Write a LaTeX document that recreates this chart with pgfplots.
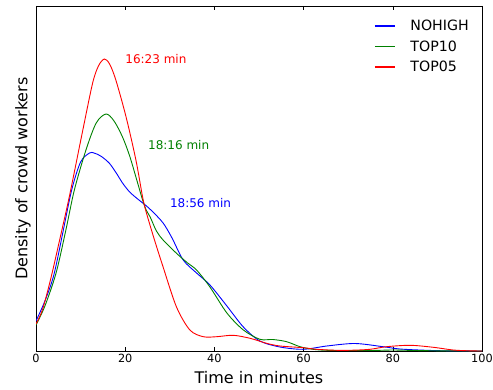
\documentclass[border=0pt]{standalone}
\usepackage{fontspec}
\setmainfont{DejaVu Sans}
\usepackage{pgfplots}
\pgfplotsset{compat=1.18}
\definecolor{mplgreen}{rgb}{0,0.5,0}
\begin{document}
\begin{tikzpicture}
\path[use as bounding box] (-36pt,-38pt) rectangle (457pt,351pt);
\begin{axis}[
  scale only axis,
  width=446pt, height=345pt,
  xmin=0, xmax=100, ymin=0, ymax=345,
  xtick={0,20,40,60,80,100},
  ytick=\empty,
  xtick pos=both,
  tick align=inside,
  major tick length=4pt,
  axis line style={black, line width=0.8pt},
  every tick/.style={black, line width=0.6pt},
  /pgf/number format/assume math mode=true,
  tick label style={font=\fontsize{11.3}{13}\selectfont},
  xlabel={Time in minutes},
  ylabel={Density of crowd workers},
  label style={font=\fontsize{16}{19}\selectfont},
  xlabel style={at={(axis description cs:0.5,-0.0783)}, anchor=center},
  ylabel style={at={(axis description cs:-0.0291,0.5)}, anchor=center},
  legend cell align=left,
  legend style={draw=white, fill=white, font=\fontsize{14.2}{16}\selectfont,
    at={(axis description cs:0.758,0.960)}, anchor=north west,
    row sep=8.5pt, inner sep=0pt, nodes={inner sep=0pt}},
  legend image code/.code={\draw[#1, line width=1.4pt] plot coordinates {(0pt,0pt) (10pt,0pt) (20pt,0pt)}; \path (35pt,0pt);},
  every axis plot/.append style={line width=0.9pt, smooth, no marks},
]
\addplot[color=blue] coordinates {
(0,30) (2,50) (4,76) (6,118) (8,161) (10,189) (12,198) (13,198) (14.5,195)
(16.4,188) (18,178) (19.4,168) (21,159) (22.8,152) (24.5,146) (26,140)
(28.5,128) (30.5,113) (33,91) (36,78) (39,66) (42.8,45) (46.5,24) (50.2,10)
(54.7,4) (59.9,1.7) (65.2,5) (71.5,7.5) (77.8,4.3) (81.6,2) (87.6,0.7) (92,0.2) (100,0)
};
\addlegendentry{NOHIGH}
\addplot[color=mplgreen] coordinates {
(0,26) (2,45) (4.5,78) (6.7,121) (8.6,161) (11.2,201) (13.5,228) (15.7,237)
(17.5,230) (19.4,214) (21,195) (22.4,174) (23.9,151) (24.7,141) (25.6,134)
(27,120) (28.5,111) (31.5,97.7) (34,88) (36,81) (39,64) (42.8,38) (46.5,21)
(50.2,11.7) (53.1,11.5) (56.2,9.3) (59.2,4.3) (62.1,1.7) (66,0.6) (75,0.5)
(80,1) (85,0.5) (92,0.1) (100,0)
};
\addlegendentry{TOP10}
\addplot[color=red] coordinates {
(0,27) (1.5,42) (3.4,74) (5.5,115) (7.5,155) (10.5,221) (12.7,268) (14,285)
(15.3,292) (16.5,287) (17.9,271) (20.2,234) (22.4,191) (23.9,154) (24.7,139)
(26.5,112) (28.5,84) (31.5,44) (34.5,21) (37.5,14.3) (40.5,14.3) (44.2,15.7)
(48,12.7) (51.7,7.7) (54.7,5) (59.9,3.3) (62.9,1.7) (67.4,0.7) (71,0.8)
(74.9,1.7) (78.6,4.3) (83.9,5.7) (89.1,3.7) (93.5,1) (97,0.2) (100,0)
};
\addlegendentry{TOP05}
\node[anchor=west, inner sep=0pt, text=red, font=\fontsize{12}{14}\selectfont] at (axis cs:20,292) {16:23 min};
\node[anchor=west, inner sep=0pt, text=mplgreen, font=\fontsize{12}{14}\selectfont] at (axis cs:25.1,206) {18:16 min};
\node[anchor=west, inner sep=0pt, text=blue, font=\fontsize{12}{14}\selectfont] at (axis cs:30,148) {18:56 min};
\end{axis}
\end{tikzpicture}
\end{document}
